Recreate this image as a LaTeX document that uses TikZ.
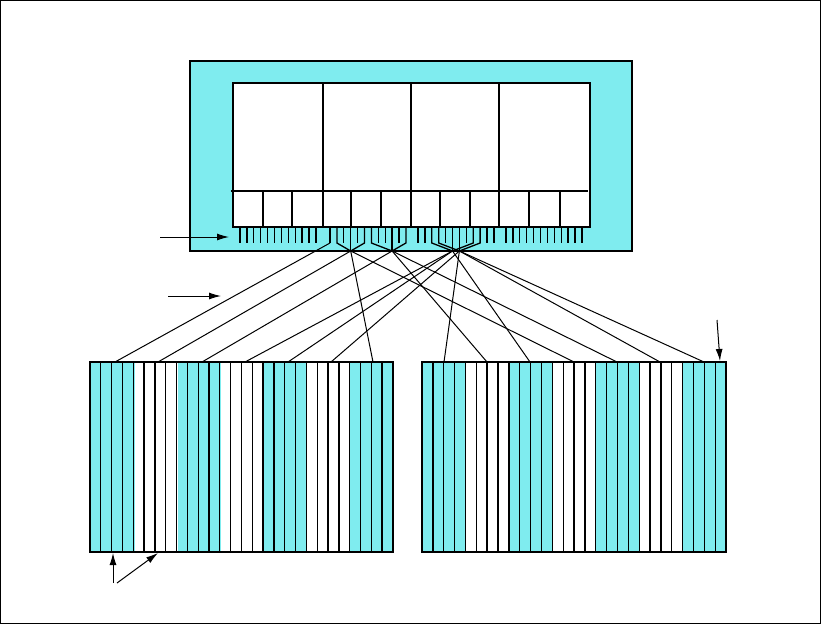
\documentclass[tikz,border=0pt]{standalone}
\usetikzlibrary{arrows.meta}
\definecolor{cy}{RGB}{127,236,239}
\begin{document}
\begin{tikzpicture}[x=1pt,y=-1pt,
  frame/.style={line width=2.6pt},
  inner/.style={line width=2pt},
  thin/.style={line width=1.2pt},
  tick/.style={line width=1.3pt},
  wire/.style={line width=1pt},
  stripe/.style={line width=1.3pt},
  pointer/.style={line width=1pt,-{Latex[length=12pt,width=7pt]}}]
\useasboundingbox (0,0) rectangle (821,624);
\draw[line width=1pt] (0.5,0.5) rectangle (820.5,623.5);
% top unit
\draw[frame,fill=cy] (190,61) rectangle (632,251);
\draw[inner,fill=white] (233,83) rectangle (590,227);
\draw[inner] (323,83) -- (323,227);
\draw[thin] (411,83) -- (411,227);
\draw[thin] (499,83) -- (499,227);
\draw[thin] (231,191) -- (588,191);
\foreach \x in {263,351,440,529,560} \draw[thin] (\x,191) -- (\x,227);
\foreach \x in {292,381,470} \draw[inner] (\x,191) -- (\x,227);
% ticks
\foreach \L in {233,499} {
  \foreach \j in {0,...,11} \draw[tick] ({\L+7+6.9*\j},227) -- ({\L+7+6.9*\j},243);
}
\foreach \j in {2,4,7,8,10} \draw[tick] ({330+6.9*\j},227) -- ({330+6.9*\j},243);
\foreach \j in {0,1,4,5,7,10,11} \draw[tick] ({418+6.9*\j},227) -- ({418+6.9*\j},243);
% hubs
\coordinate (h1) at (330,243);
\coordinate (h2) at (350.7,251);
\coordinate (h3) at (392.1,251);
\coordinate (h4) at (452.5,251);
\coordinate (h5) at (459.4,251);
\draw[tick] (330,227) -- (h1);
\draw[tick] (336.9,227) -- (336.9,243) -- (h2);
\draw[tick] (364.5,227) -- (364.5,243) -- (h2);
\draw[tick] (350.7,227) -- (h2);
\draw[tick] (371.4,227) -- (371.4,243) -- (h3);
\draw[tick] (405.9,227) -- (405.9,243) -- (h3);
\draw[tick] (392.1,227) -- (h3);
\draw[tick] (431.8,227) -- (431.8,243) -- (h4);
\draw[tick] (473.2,227) -- (473.2,243) -- (h4);
\draw[tick] (452.5,227) -- (h4);
\draw[tick] (438.7,227) -- (438.7,243) -- (h5);
\draw[tick] (480.1,227) -- (480.1,243) -- (h5);
\draw[tick] (459.4,227) -- (h5);
% left rack
\fill[cy] (90,362) rectangle (135,552);
\fill[cy] (178,362) rectangle (221,552);
\fill[cy] (264,362) rectangle (307,552);
\fill[cy] (350,362) rectangle (393,552);
\foreach \k in {1,...,27} \draw[stripe] ({90+\k*10.82},362) -- ({90+\k*10.82},552);
\draw[frame] (90,362) rectangle (393,552);
% right rack
\fill[cy] (422,362) rectangle (466,552);
\fill[cy] (509,362) rectangle (552,552);
\fill[cy] (596,362) rectangle (639,552);
\fill[cy] (682,362) rectangle (726,552);
\foreach \k in {1,...,27} \draw[stripe] ({422+\k*10.857},362) -- ({422+\k*10.857},552);
\draw[frame] (422,362) rectangle (726,552);
% wire ends
\coordinate (L0) at (115,362); \coordinate (L1) at (158,362);
\coordinate (L2) at (202,362); \coordinate (L3) at (245,362);
\coordinate (L4) at (288,362); \coordinate (L5) at (331,362);
\coordinate (L6) at (373,362);
\coordinate (R0) at (444,362); \coordinate (R1) at (487,362);
\coordinate (R2) at (530,362); \coordinate (R3) at (574,362);
\coordinate (R4) at (617,362); \coordinate (R5) at (660,362);
\coordinate (R6) at (704,362);
% wires
\draw[wire] (h1) -- (L0);
\draw[wire] (h2) -- (L1);
\draw[wire] (h2) -- (L6);
\draw[wire] (h2) -- (R3);
\draw[wire] (h3) -- (L2);
\draw[wire] (h3) -- (R1);
\draw[wire] (h3) -- (R4);
\draw[wire] (h4) -- (L3);
\draw[wire] (h4) -- (L4);
\draw[wire] (h4) -- (R2);
\draw[wire] (h5) -- (L5);
\draw[wire] (h5) -- (R0);
\draw[wire] (h5) -- (R5);
\draw[wire] (h5) -- (R6);
% pointers
\coordinate (p1s) at (160,237); \coordinate (p1e) at (229,237);
\coordinate (p2s) at (168,296); \coordinate (p2e) at (221,296);
\coordinate (p3s) at (717,320); \coordinate (p3e) at (720,361);
\coordinate (p4s) at (113,583); \coordinate (p4e) at (113,553);
\coordinate (p5s) at (117,583); \coordinate (p5e) at (158,553);
\draw[pointer] (p1s) -- (p1e);
\draw[pointer] (p2s) -- (p2e);
\draw[pointer] (p3s) -- (p3e);
\draw[pointer] (p4s) -- (p4e);
\draw[pointer] (p5s) -- (p5e);
\end{tikzpicture}
\end{document}
